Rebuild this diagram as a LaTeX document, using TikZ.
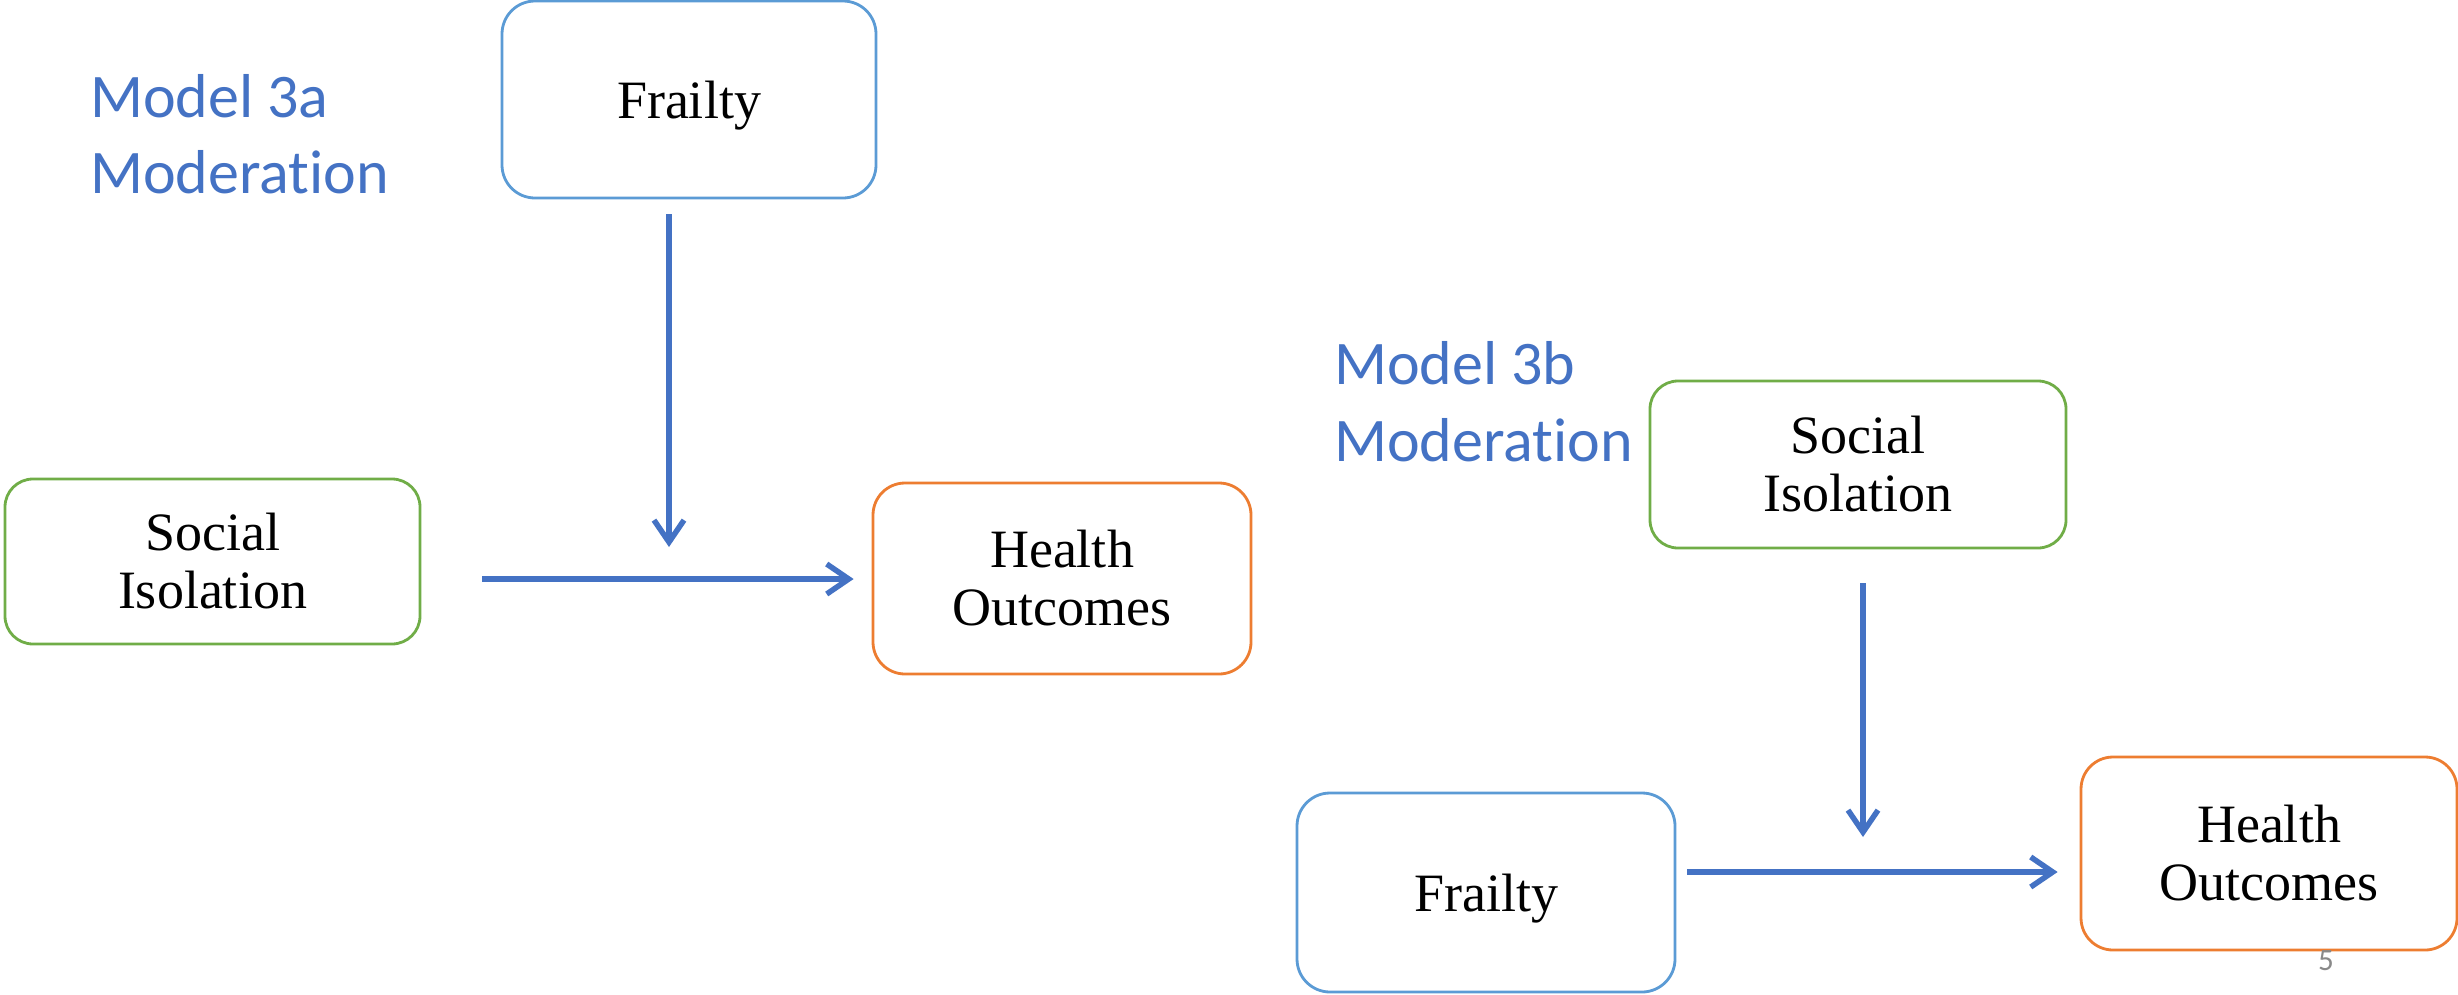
\documentclass[tikz,border=0pt]{standalone}
\usepackage{fontspec}
\setmainfont{Liberation Serif}
\newfontfamily\calibri[Ligatures=NoCommon]{Carlito}
\usetikzlibrary{arrows.meta,calc}
\definecolor{arrowblue}{HTML}{4472C4}
\definecolor{titleblue}{HTML}{4472C4}
\definecolor{frailblue}{HTML}{5B9BD5}
\definecolor{isogreen}{HTML}{70AD47}
\definecolor{outorange}{HTML}{ED7D31}
\definecolor{numgray}{HTML}{898989}
\begin{document}
\begin{tikzpicture}[x=1pt,y=-1pt,
  box/.style={draw, line width=2.8pt, align=center, inner sep=0pt, fill=white,
    font=\fontsize{54}{58}\selectfont},
  frailbox/.style={box, draw=frailblue, text depth=0pt},
  isobox/.style={box, draw=isogreen},
  outbox/.style={box, draw=outorange},
  arr/.style={draw=arrowblue, line width=5.5pt, -{Straight Barb[length=22pt,width=30pt]}},
  title/.style={anchor=base west, text=titleblue, inner sep=0pt,
    font=\calibri\fontsize{62}{76}\selectfont}]
\fill[white] (0,0) rectangle (2458,994);
\useasboundingbox (0,0) rectangle (2458,994);

% Model 3a
\node[title] (t3a1) at (90,117) {Model 3a};
\node[title] (t3a2) at (90,193) {Moderation};
\node[frailbox, minimum width=374pt, minimum height=197pt, rounded corners=33pt] (fr1) at (689,99.5) {Frailty};
\node[isobox, minimum width=415pt, minimum height=165pt, rounded corners=28pt] (si1) at (212.5,561.5) {Social\\Isolation};
\node[outbox, minimum width=378pt, minimum height=191pt, rounded corners=32pt] (ho1) at (1062,578.5) {Health\\Outcomes};
\coordinate (m1) at (669,579);
\draw[arr, shorten <=61pt, shorten >=18pt] (si1.east |- m1) -- (ho1.west |- m1);
\draw[arr, shorten <=15pt, shorten >=32pt] (fr1.south -| m1) -- (m1);

% Model 3b
\node[title] (t3b1) at (1334,384) {Model 3b};
\node[title] (t3b2) at (1334,461) {Moderation};
\node[isobox, minimum width=416pt, minimum height=167pt, rounded corners=28pt] (si2) at (1858,464.5) {Social\\Isolation};
\node[frailbox, minimum width=378pt, minimum height=199pt, rounded corners=33pt] (fr2) at (1486,892.5) {Frailty};
\node[outbox, minimum width=376pt, minimum height=193pt, rounded corners=32pt] (ho2) at (2269,853.5) {Health\\Outcomes};
\coordinate (m2) at (1863,872);
\draw[arr, shorten <=11pt, shorten >=22pt] (fr2.east |- m2) -- (ho2.west |- m2);
\draw[arr, shorten <=34pt, shorten >=35pt] (si2.south -| m2) -- (m2);

% slide number
\node[anchor=base, text=numgray, inner sep=0pt, font=\calibri\fontsize{31}{36}\selectfont] (num) at (2326,970) {5};
\end{tikzpicture}
\end{document}
